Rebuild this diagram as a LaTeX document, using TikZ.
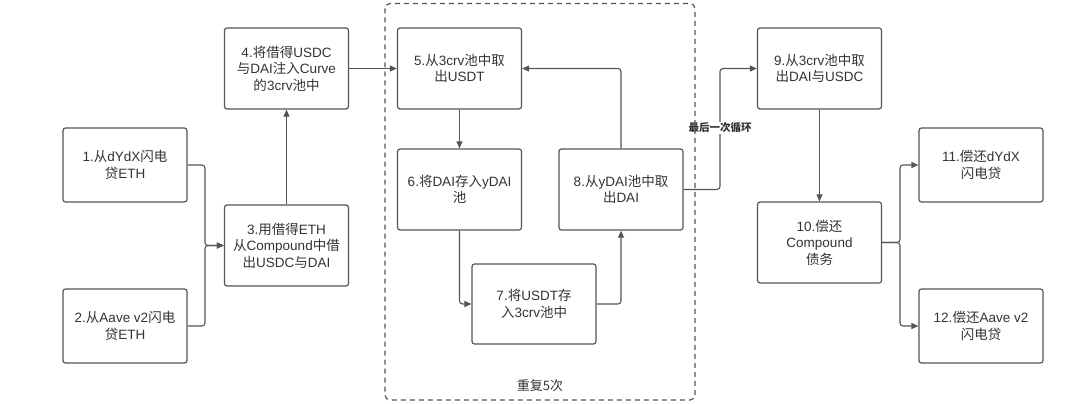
\documentclass[tikz,border=0pt]{standalone}
\usepackage{fontspec}
\setmainfont{Liberation Sans}
\newfontfamily\cjkf{Noto Sans CJK SC}
\newcommand\zh[1]{{\cjkf #1}}
\usetikzlibrary{arrows.meta}
\definecolor{ln}{HTML}{555555}
\definecolor{tx}{HTML}{333333}
\tikzset{
  box/.style={draw=ln, line width=1.2pt, rounded corners=2.5pt, minimum width=124pt, align=center, text=tx, font=\fontsize{13.5}{16.5}\selectfont, inner sep=0pt},
  tallbox/.style={box, minimum height=81pt},
  shortbox/.style={box, minimum height=74pt},
  conn/.style={draw=ln, line width=1.1pt, rounded corners=3pt, -{Triangle[length=7pt,width=6pt]}},
  group/.style={draw=ln, line width=1.2pt, rounded corners=5pt, dash pattern=on 5pt off 4pt},
}
\begin{document}
\begin{tikzpicture}[x=1pt,y=-1pt]
\useasboundingbox (0,0) rectangle (1080,404);
\node[shortbox] (n1) at (125,165) {1.\zh{从}dYdX\zh{闪电}\\\zh{贷}ETH};
\node[shortbox] (n2) at (125,326) {2.\zh{从}Aave v2\zh{闪电}\\\zh{贷}ETH};
\node[tallbox] (n3) at (286.5,245.5) {3.\zh{用借得}ETH\\\zh{从}Compound\zh{中借}\\\zh{出}USDC\zh{与}DAI};
\node[tallbox] (n4) at (286.5,68.5) {4.\zh{将借得}USDC\\\zh{与}DAI\zh{注入}Curve\\\zh{的}3crv\zh{池中}};
\node[tallbox] (n5) at (459.5,68.5) {5.\zh{从}3crv\zh{池中取}\\\zh{出}USDT};
\node[tallbox] (n6) at (459.5,189.5) {6.\zh{将}DAI\zh{存入}yDAI\\\zh{池}};
\node[box, minimum height=80pt] (n7) at (534,304) {7.\zh{将}USDT\zh{存}\\\zh{入}3crv\zh{池中}};
\node[tallbox] (n8) at (621,189.5) {8.\zh{从}yDAI\zh{池中取}\\\zh{出}DAI};
\node[tallbox] (n9) at (819.5,68.5) {9.\zh{从}3crv\zh{池中取}\\\zh{出}DAI\zh{与}USDC};
\node[tallbox] (n10) at (819.5,242.5) {10.\zh{偿还}\\Compound\\\zh{债务}};
\node[shortbox] (n11) at (981,165) {11.\zh{偿还}dYdX\\\zh{闪电贷}};
\node[shortbox] (n12) at (981,326) {12.\zh{偿还}Aave v2\\\zh{闪电贷}};
\coordinate (j12) at (205,0);
\coordinate (j89) at (720,0);
\coordinate (j10) at (900,0);
% connectors
\draw[conn] (n1.east) -- (n1.east -| j12) |- (n3.west);
\draw[conn] (n2.east) -- (n2.east -| j12) |- (n3.west);
\draw[conn] (n3.north) -- (n4.south);
\draw[conn] (n4.east) -- (n5.west);
\draw[conn] (n5.south) -- (n6.north);
\draw[conn] (n6.south) |- (n7.west);
\draw[conn] (n7.east) -| (n8.south);
\draw[conn] (n8.north) |- (n5.east);
\draw[conn] (n8.east) -- (n8.east -| j89) |- (n9.west);
\draw[conn] (n9.south) -- (n10.north);
\draw[conn] (n10.east) -- (n10.east -| j10) |- (n11.west);
\draw[conn] (n10.east) -- (n10.east -| j10) |- (n12.west);
\node[fill=white, inner sep=1pt, text=tx, font=\cjkf\fontsize{10.5}{12}\selectfont\bfseries] (lbl) at (720,128) {最后一次循环};
% group
\draw[group] (385,3.5) rectangle (695,400);
\node[text=tx, font=\cjkf\fontsize{13}{16}\selectfont] (rep) at (540,386) {重复5次};
\end{tikzpicture}
\end{document}
